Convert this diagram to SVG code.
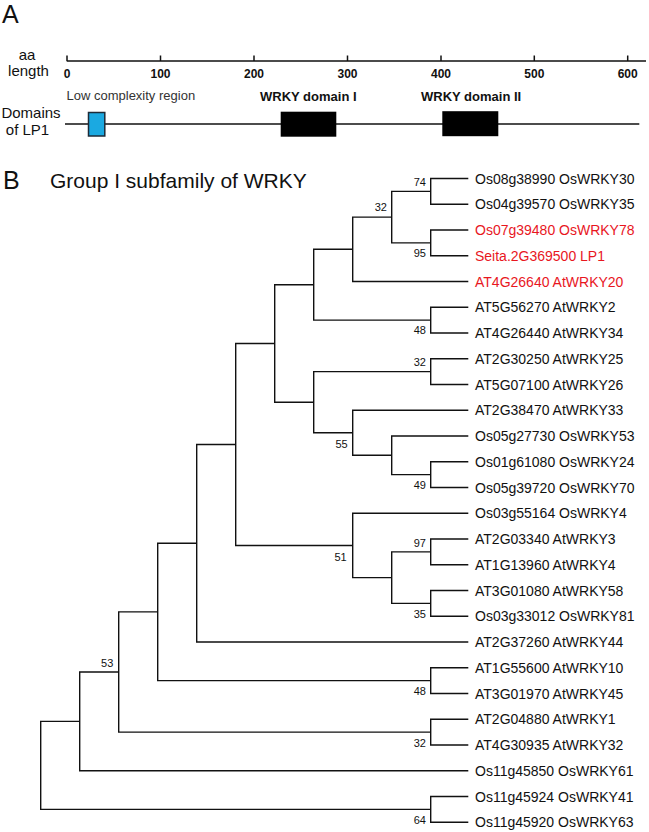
<svg xmlns="http://www.w3.org/2000/svg" width="649" height="832" viewBox="0 0 649 832">
<style>
text{font-family:"Liberation Sans",Arial,sans-serif;fill:#111}
.panel{font-size:25px}
.lab{font-size:15px;text-anchor:middle}
.tick{font-size:12px;font-weight:bold;text-anchor:middle}
.dom{font-size:13px;font-weight:bold}
.leaf{font-size:14px}
.red{fill:#E8161E}
.bs{font-size:11px;text-anchor:end}
.ln{fill:none;stroke:#111;stroke-width:1.5}
.br{fill:none;stroke:#111;stroke-width:1.4}
</style>
<rect width="649" height="832" fill="#fff"/>
<!-- Panel A -->
<g id="panelA">
<text class="panel" x="2" y="23">A</text>
<text class="lab" x="27" y="59.5">aa</text>
<text class="lab" x="28.5" y="76">length</text>
<text class="lab" x="31" y="117.5">Domains</text>
<text class="lab" x="27.5" y="134.5">of LP1</text>
<g id="axis">
<path class="ln" d="M66.7 61H646M67 55.5V61M160.5 55.5V61M254 55.5V61M347.5 55.5V61M441 55.5V61M534.3 55.5V61M627.7 55.5V61"/>
<text class="tick" x="67" y="78">0</text>
<text class="tick" x="160.5" y="78">100</text>
<text class="tick" x="254" y="78">200</text>
<text class="tick" x="347.5" y="78">300</text>
<text class="tick" x="441" y="78">400</text>
<text class="tick" x="534.3" y="78">500</text>
<text class="tick" x="627.7" y="78">600</text>
</g>
<g id="domains">
<path class="ln" d="M65 124H639.3"/>
<rect x="88.5" y="112.5" width="16.3" height="23.5" fill="#1BA9E1" stroke="#1d2b38" stroke-width="1.5"/>
<rect x="280.7" y="111.7" width="55.6" height="25" fill="#000"/>
<rect x="442.3" y="111.2" width="56" height="25" fill="#000"/>
<text x="66.5" y="100" font-size="13" style="fill:#333">Low complexity region</text>
<text class="dom" x="260" y="101">WRKY domain I</text>
<text class="dom" x="421" y="101">WRKY domain II</text>
</g>
</g>
<!-- Panel B -->
<text class="panel" x="3" y="189">B</text>
<text x="50" y="188" font-size="21">Group I subfamily of WRKY</text>
<g id="connectors">
<path class="br" d="M468.3 178.5H430.7V204.25H468.3"/>
<path class="br" d="M468.3 230H430.7V255.75H468.3"/>
<path class="br" d="M430.7 191.375H391.7V242.875H430.7"/>
<path class="br" d="M391.7 217.125H352.7V281.5H468.3"/>
<path class="br" d="M468.3 307.25H430.7V333H468.3"/>
<path class="br" d="M352.7 249.31H313.7V320.125H430.7"/>
<path class="br" d="M468.3 358.75H430.7V384.5H468.3"/>
<path class="br" d="M468.3 461.75H430.7V487.5H468.3"/>
<path class="br" d="M468.3 436H391.7V474.625H430.7"/>
<path class="br" d="M468.3 410.25H352.7V455.31H391.7"/>
<path class="br" d="M430.7 371.625H313.7V432.78H352.7"/>
<path class="br" d="M313.7 284.72H274.7V402.2H313.7"/>
<path class="br" d="M468.3 539H430.7V564.75H468.3"/>
<path class="br" d="M468.3 590.5H430.7V616.25H468.3"/>
<path class="br" d="M430.7 551.875H391.7V603.375H430.7"/>
<path class="br" d="M468.3 513.25H352.7V577.625H391.7"/>
<path class="br" d="M274.7 343.46H235.7V545.44H352.7"/>
<path class="br" d="M235.7 444.45H196.7V642H468.3"/>
<path class="br" d="M468.3 667.75H430.7V693.5H468.3"/>
<path class="br" d="M196.7 543.2H157.7V680.625H430.7"/>
<path class="br" d="M468.3 719.25H430.7V745H468.3"/>
<path class="br" d="M157.7 611.9H118.7V732.125H430.7"/>
<path class="br" d="M118.7 672H79.7V770.75H468.3"/>
<path class="br" d="M468.3 796.5H430.7V822.25H468.3"/>
<path class="br" d="M79.7 721.4H40.7V809.375H430.7"/>
</g>
<g id="bootstrap">
<text class="bs" x="426" y="186">74</text>
<text class="bs" x="387" y="211">32</text>
<text class="bs" x="426" y="257">95</text>
<text class="bs" x="426" y="334">48</text>
<text class="bs" x="426" y="366">32</text>
<text class="bs" x="347.7" y="447.7">55</text>
<text class="bs" x="426" y="489">49</text>
<text class="bs" x="426" y="546.5">97</text>
<text class="bs" x="346.7" y="560.7">51</text>
<text class="bs" x="426" y="618.3">35</text>
<text class="bs" x="113.3" y="667.3">53</text>
<text class="bs" x="426" y="695">48</text>
<text class="bs" x="426" y="746.5">32</text>
<text class="bs" x="426" y="824">64</text>
</g>
<g id="leaf-Os08g38990"><text class="leaf" x="475" y="183.5">Os08g38990 OsWRKY30</text></g>
<g id="leaf-Os04g39570"><text class="leaf" x="475" y="209.25">Os04g39570 OsWRKY35</text></g>
<g id="leaf-Os07g39480"><text class="leaf red" x="475" y="235">Os07g39480 OsWRKY78</text></g>
<g id="leaf-Seita2G369500"><text class="leaf red" x="475" y="260.75">Seita.2G369500 LP1</text></g>
<g id="leaf-AT4G26640"><text class="leaf red" x="475" y="286.5">AT4G26640 AtWRKY20</text></g>
<g id="leaf-AT5G56270"><text class="leaf" x="475" y="312.25">AT5G56270 AtWRKY2</text></g>
<g id="leaf-AT4G26440"><text class="leaf" x="475" y="338">AT4G26440 AtWRKY34</text></g>
<g id="leaf-AT2G30250"><text class="leaf" x="475" y="363.75">AT2G30250 AtWRKY25</text></g>
<g id="leaf-AT5G07100"><text class="leaf" x="475" y="389.5">AT5G07100 AtWRKY26</text></g>
<g id="leaf-AT2G38470"><text class="leaf" x="475" y="415.25">AT2G38470 AtWRKY33</text></g>
<g id="leaf-Os05g27730"><text class="leaf" x="475" y="441">Os05g27730 OsWRKY53</text></g>
<g id="leaf-Os01g61080"><text class="leaf" x="475" y="466.75">Os01g61080 OsWRKY24</text></g>
<g id="leaf-Os05g39720"><text class="leaf" x="475" y="492.5">Os05g39720 OsWRKY70</text></g>
<g id="leaf-Os03g55164"><text class="leaf" x="475" y="518.25">Os03g55164 OsWRKY4</text></g>
<g id="leaf-AT2G03340"><text class="leaf" x="475" y="544">AT2G03340 AtWRKY3</text></g>
<g id="leaf-AT1G13960"><text class="leaf" x="475" y="569.75">AT1G13960 AtWRKY4</text></g>
<g id="leaf-AT3G01080"><text class="leaf" x="475" y="595.5">AT3G01080 AtWRKY58</text></g>
<g id="leaf-Os03g33012"><text class="leaf" x="475" y="621.25">Os03g33012 OsWRKY81</text></g>
<g id="leaf-AT2G37260"><text class="leaf" x="475" y="647">AT2G37260 AtWRKY44</text></g>
<g id="leaf-AT1G55600"><text class="leaf" x="475" y="672.75">AT1G55600 AtWRKY10</text></g>
<g id="leaf-AT3G01970"><text class="leaf" x="475" y="698.5">AT3G01970 AtWRKY45</text></g>
<g id="leaf-AT2G04880"><text class="leaf" x="475" y="724.25">AT2G04880 AtWRKY1</text></g>
<g id="leaf-AT4G30935"><text class="leaf" x="475" y="750">AT4G30935 AtWRKY32</text></g>
<g id="leaf-Os11g45850"><text class="leaf" x="475" y="775.75">Os11g45850 OsWRKY61</text></g>
<g id="leaf-Os11g45924"><text class="leaf" x="475" y="801.5">Os11g45924 OsWRKY41</text></g>
<g id="leaf-Os11g45920"><text class="leaf" x="475" y="827.25">Os11g45920 OsWRKY63</text></g>
</svg>
